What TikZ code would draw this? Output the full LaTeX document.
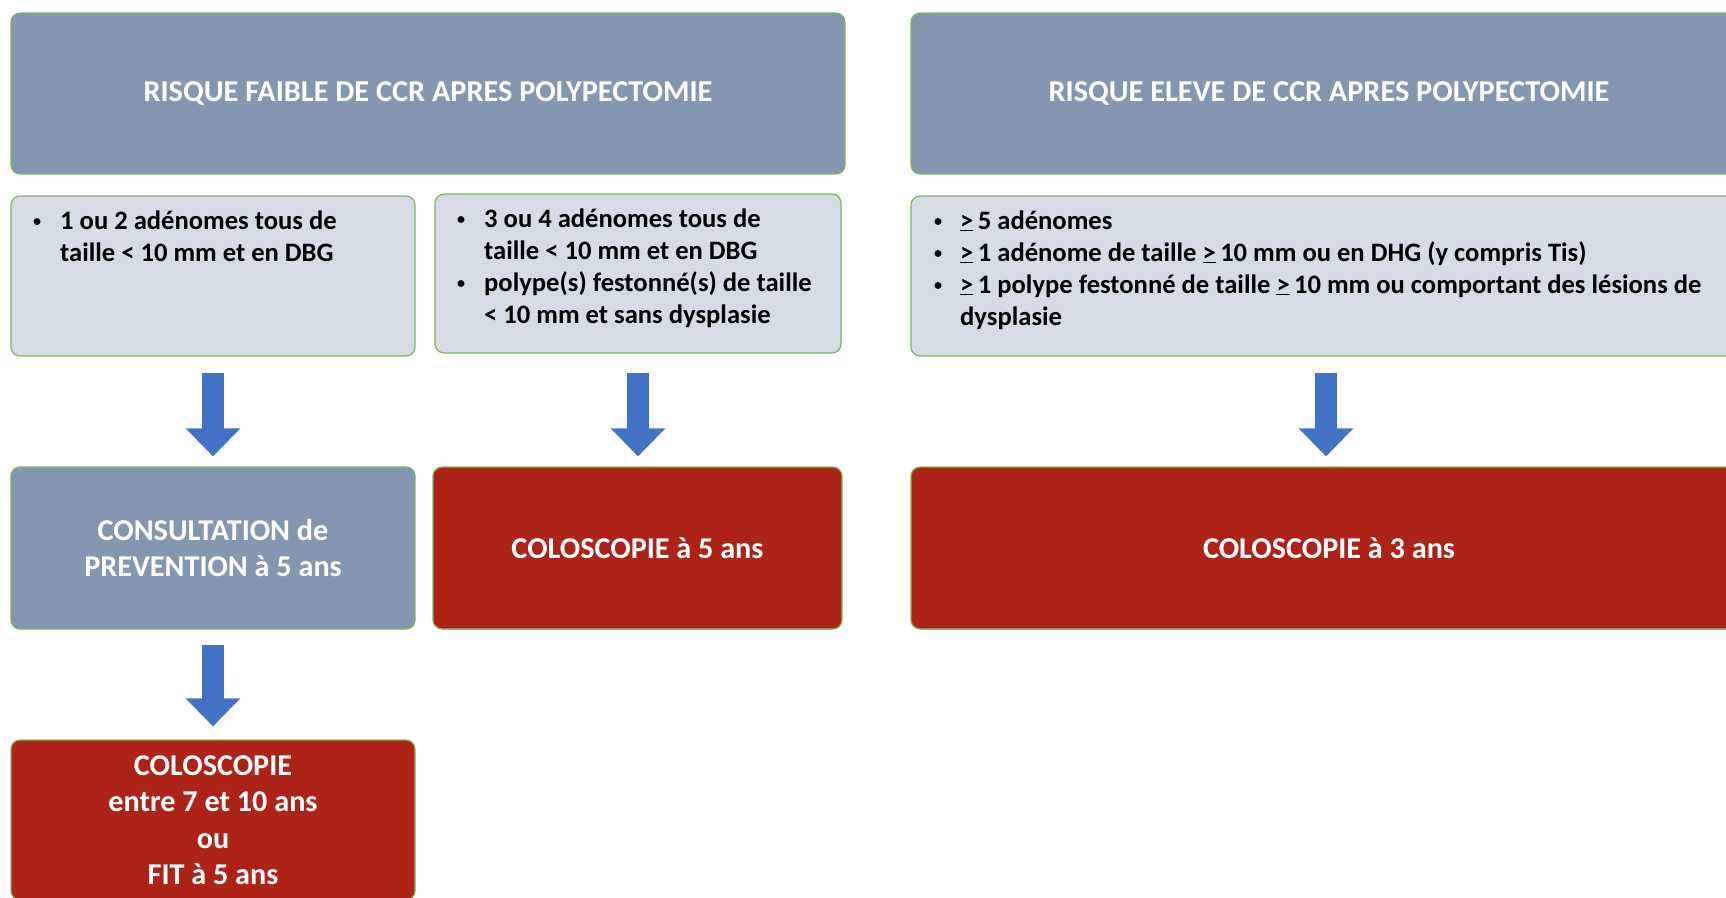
\documentclass[tikz,border=0pt]{standalone}
\usepackage{fontspec}
\setmainfont{Carlito}
\usetikzlibrary{arrows.meta}
\definecolor{hdrblue}{HTML}{8497B0}
\definecolor{boxgray}{HTML}{D6DCE5}
\definecolor{boxred}{HTML}{AE2318}
\definecolor{arrowblue}{HTML}{4472C4}
\definecolor{bordergreen}{HTML}{7DB65A}
\newcommand\gsym{\underline{>}}
\newcommand\bul{\raisebox{3pt}{\fontsize{16}{16}\selectfont\textbullet}}
\tikzset{
  box/.style={draw=bordergreen, line width=1.2pt, rounded corners=9pt, inner sep=0pt},
  hdr/.style={box, fill=hdrblue, text=white, font=\bfseries\fontsize{30.3}{34}\selectfont},
  crit/.style={box, fill=boxgray},
  dec/.style={box, fill=hdrblue, text=white, align=center, font=\bfseries\fontsize{30.2}{36.5}\selectfont},
  res/.style={box, fill=boxred, text=white, align=center, font=\bfseries\fontsize{30.2}{36.5}\selectfont},
  btext/.style={anchor=base west, inner sep=0pt, font=\bfseries\fontsize{26.6}{32}\selectfont},
  flow/.style={draw=arrowblue, line width=22pt, -{Triangle[width=53pt,length=28pt]}}
}
\begin{document}
\begin{tikzpicture}[x=1pt,y=-1pt]
\useasboundingbox (0,0) rectangle (1726,897);
\clip (0,0) rectangle (1726,897);
% headers
\node[hdr, minimum width=834pt, minimum height=161pt] (H1) at (428,93.5) {RISQUE FAIBLE DE CCR APRES POLYPECTOMIE};
\node[hdr, minimum width=836pt, minimum height=161pt] (H2) at (1329,93.5) {RISQUE ELEVE DE CCR APRES POLYPECTOMIE};
% criteria boxes
\node[crit, minimum width=404pt, minimum height=160pt] (A) at (213,276) {};
\node[crit, minimum width=406pt, minimum height=159pt] (B) at (638,273.5) {};
\node[crit, minimum width=836pt, minimum height=160pt] (C) at (1329,276) {};
\node[btext] (At) at (33,229) {\begin{tabular}[t]{@{}p{27pt}@{}l@{}}
\bul & 1 ou 2 adénomes tous de\\
 & taille < 10 mm et en DBG
\end{tabular}};
\node[btext] (Bt) at (457,227) {\begin{tabular}[t]{@{}p{27pt}@{}l@{}}
\bul & 3 ou 4 adénomes tous de\\
 & taille < 10 mm et en DBG\\
\bul & polype(s) festonné(s) de taille\\
 & < 10 mm et sans dysplasie
\end{tabular}};
\node[btext] (Ct) at (934,229) {\begin{tabular}[t]{@{}p{26pt}@{}l@{}}
\bul & \gsym\,5 adénomes\\
\bul & \gsym\,1 adénome de taille \gsym\,10 mm ou en DHG (y compris Tis)\\
\bul & \gsym\,1 polype festonné de taille \gsym\,10 mm ou comportant des lésions de\\
 & dysplasie
\end{tabular}};
% decision boxes
\node[dec, minimum width=404pt, minimum height=162pt] (D) at (213,548) {CONSULTATION de\\PREVENTION à 5 ans};
\node[res, minimum width=409pt, minimum height=162pt] (E) at (637.5,548) {COLOSCOPIE à 5 ans};
\node[res, minimum width=836pt, minimum height=162pt] (F) at (1329,548) {COLOSCOPIE à 3 ans};
\node[res, minimum width=404pt, minimum height=160pt] (G) at (213,820) {COLOSCOPIE\\entre 7 et 10 ans\\ou\\FIT à 5 ans};
% arrows
\draw[flow, shorten <=16pt, shorten >=10pt] (A.south) -- (D.north);
\draw[flow, shorten <=19pt, shorten >=10pt] (B.south) -- (B.south |- E.north);
\draw[flow, shorten <=16pt, shorten >=10pt] ([xshift=-3pt]C.south) -- ([xshift=-3pt]F.north);
\draw[flow, shorten <=15pt, shorten >=13pt] (D.south) -- (G.north);
\end{tikzpicture}
\end{document}
